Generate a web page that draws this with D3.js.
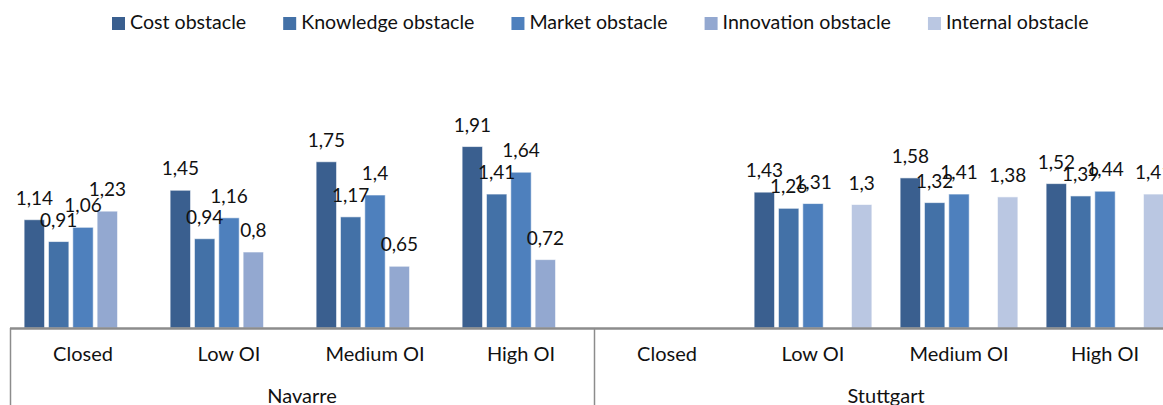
<!DOCTYPE html>
<html>
<head>
<meta charset="utf-8">
<script src="https://cdn.jsdelivr.net/npm/d3@7"></script>
<style>
  html, body { margin: 0; padding: 0; background: #fff; }
  svg { display: block; }
  text { font-family: Lato, "Open Sans", sans-serif; fill: #111; }
</style>
</head>
<body>
<svg id="chart" width="1163" height="405"></svg>
<script>
const regions = ["Navarre", "Stuttgart"];
const categories = ["Closed", "Low OI", "Medium OI", "High OI"];
const seriesNames = ["Cost obstacle", "Knowledge obstacle", "Market obstacle", "Innovation obstacle", "Internal obstacle"];
const seriesColors = ["#3A5F8F", "#4371A7", "#4E80BD", "#93A8D0", "#BAC7E2"];
// values per category: Navarre (Closed, Low, Medium, High), Stuttgart (Closed, Low, Medium, High)
const costValues       = [1.14, 1.45, 1.75, 1.91, null, 1.43, 1.58, 1.52];
const knowledgeValues  = [0.91, 0.94, 1.17, 1.41, null, 1.26, 1.32, 1.39];
const marketValues     = [1.06, 1.16, 1.40, 1.64, null, 1.31, 1.41, 1.44];
const innovationValues = [1.23, 0.80, 0.65, 0.72, null, null, null, null];
const internalValues   = [null, null, null, null, null, 1.30, 1.38, 1.41];

const seriesValues = [costValues, knowledgeValues, marketValues, innovationValues, internalValues];

const svg = d3.select("#chart");
const labelSize = 19;
const textSize = 20;
const legendSize = 19.6;

// composite category keys
const keys = [];
regions.forEach(r => categories.forEach(c => keys.push(r + "|" + c)));

const plotLeft = 10, plotRight = 1178, baseY = 328;
const x0 = d3.scaleBand().domain(keys).range([plotLeft, plotRight]).paddingInner(0).paddingOuter(0);
const x1 = d3.scaleBand().domain(seriesNames).range([0, x0.bandwidth()]).paddingInner(0.16).paddingOuter(0.58);
const y = d3.scaleLinear().domain([0, 2]).range([baseY, baseY - 190]);

// bars
const barData = [];
seriesValues.forEach((vals, si) => {
  vals.forEach((v, ci) => {
    if (v !== null && v !== undefined) barData.push({ s: seriesNames[si], si, key: keys[ci], v });
  });
});

svg.append("g").selectAll("rect").data(barData).enter().append("rect")
  .attr("x", d => x0(d.key) + x1(d.s))
  .attr("y", d => y(d.v))
  .attr("width", x1.bandwidth())
  .attr("height", d => y(0) - y(d.v))
  .attr("fill", d => seriesColors[d.si])
  .attr("stroke", "rgba(255,255,255,0.6)")
  .attr("stroke-width", 1);

// value labels
const fmt = v => String(v).replace(".", ",");
svg.append("g").selectAll("text").data(barData).enter().append("text")
  .attr("x", d => x0(d.key) + x1(d.s) + x1.bandwidth() / 2)
  .attr("y", d => y(d.v) - 15)
  .attr("text-anchor", "middle")
  .style("font-size", labelSize + "px")
  .text(d => fmt(d.v));

// axis line
svg.append("line")
  .attr("x1", plotLeft).attr("x2", plotRight)
  .attr("y1", baseY + 0.5).attr("y2", baseY + 0.5)
  .attr("stroke", "#8c8c8c").attr("stroke-width", 2.5);

// region separators
const regionStarts = regions.map(r => x0(r + "|" + categories[0]));
regionStarts.concat([plotRight]).forEach(xx => {
  svg.append("line")
    .attr("x1", xx + 0.5).attr("x2", xx + 0.5)
    .attr("y1", baseY).attr("y2", 405)
    .attr("stroke", "#8c8c8c").attr("stroke-width", 1.5);
});

// category labels
svg.append("g").selectAll("text").data(keys).enter().append("text")
  .attr("x", d => x0(d) + x0.bandwidth() / 2)
  .attr("y", 361)
  .attr("text-anchor", "middle")
  .style("font-size", textSize + "px")
  .text(d => d.split("|")[1]);

// region labels
svg.append("g").selectAll("text").data(regions).enter().append("text")
  .attr("x", r => x0(r + "|" + categories[0]) + x0.bandwidth() * categories.length / 2)
  .attr("y", 403)
  .attr("text-anchor", "middle")
  .style("font-size", textSize + "px")
  .text(r => r);

// legend
const legend = svg.append("g");
let lx = 112;
seriesNames.forEach((name, i) => {
  legend.append("rect")
    .attr("x", lx).attr("y", 17)
    .attr("width", 13).attr("height", 13)
    .attr("fill", seriesColors[i]);
  const t = legend.append("text")
    .attr("x", lx + 18).attr("y", 29)
    .style("font-size", legendSize + "px")
    .text(name);
  const w = t.node().getComputedTextLength();
  lx = lx + 18 + w + 37;
});
</script>
</body>
</html>
